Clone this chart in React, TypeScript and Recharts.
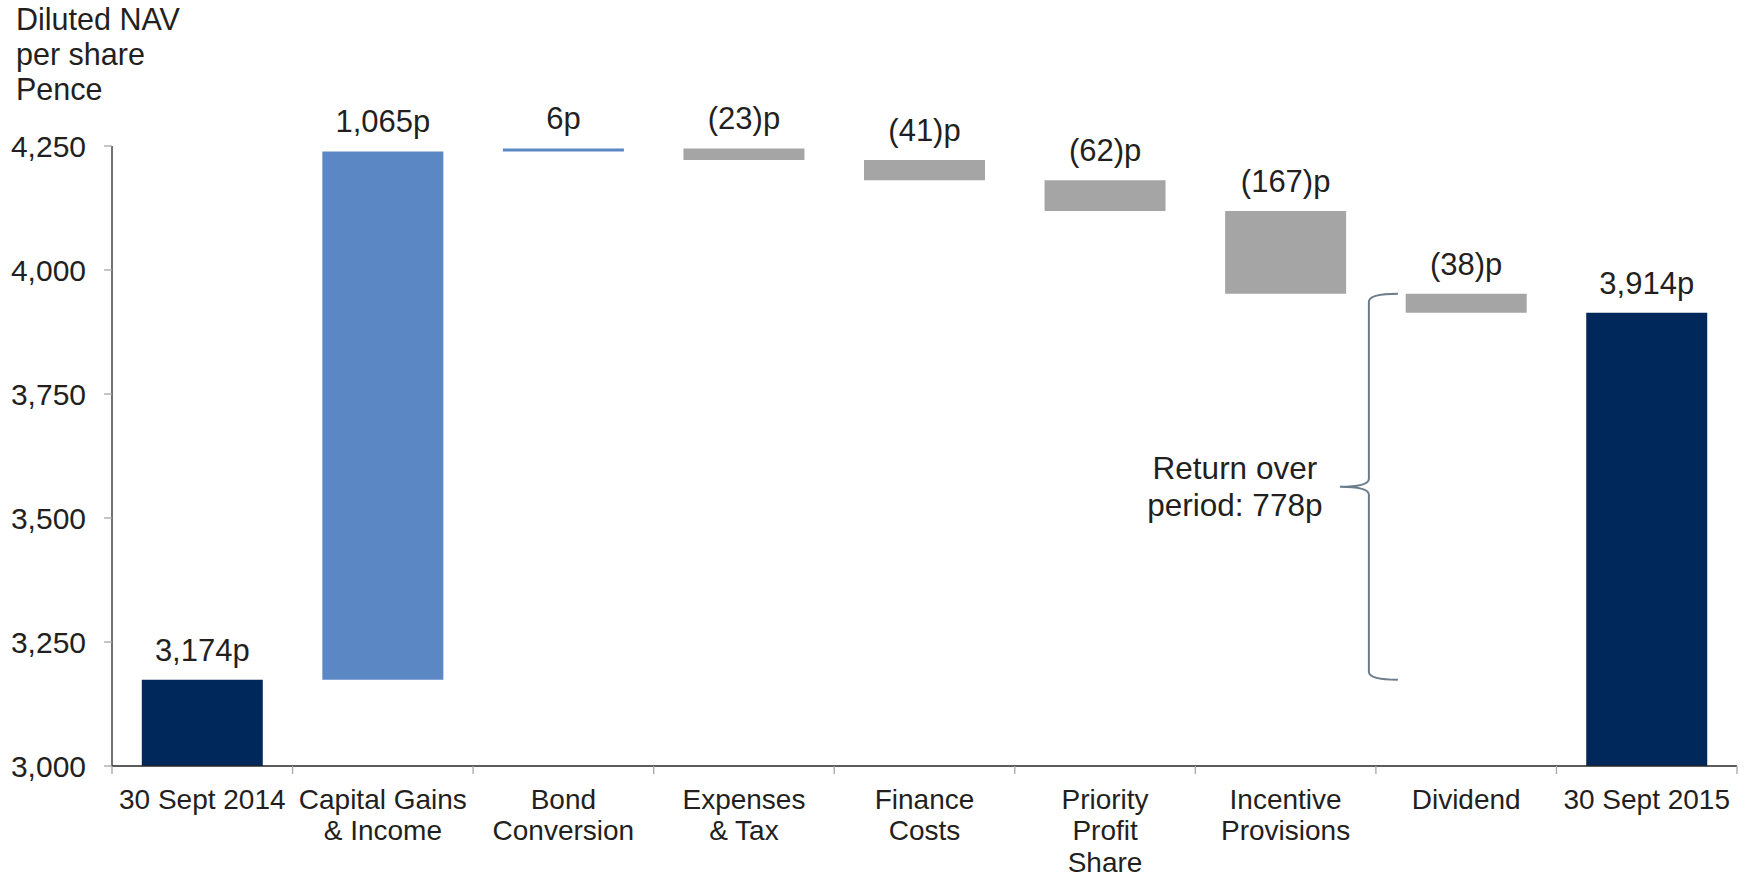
import React from 'react';
import { BarChart, Bar, XAxis, YAxis, Cell, LabelList, ReferenceArea } from 'recharts';

const categories = [
  '30 Sept 2014',
  'Capital Gains\n& Income',
  'Bond\nConversion',
  'Expenses\n& Tax',
  'Finance\nCosts',
  'Priority\nProfit\nShare',
  'Incentive\nProvisions',
  'Dividend',
  '30 Sept 2015',
];
const startValue = 3174;
const changes = [1065, 6, -23, -41, -62, -167, -38];
const endValue = 3914;
const yTicks = [3000, 3250, 3500, 3750, 4000, 4250];
const yMin = 3000;
const yMax = 4250;
const titleLines = ['Diluted NAV', 'per share', 'Pence'];

const COLORS: Record<string, string> = { total: '#00285A', up: '#5B87C5', down: '#A5A5A5' };
const FONT = '"Liberation Sans", Arial, Helvetica, sans-serif';
const TEXT = '#231F20';

const fmt = (n: number) => n.toLocaleString('en-US');

type Row = { name: string; range: [number, number]; label: string; kind: string };

const data: Row[] = (() => {
  const rows: Row[] = [];
  rows.push({ name: categories[0], range: [yMin, startValue], label: `${fmt(startValue)}p`, kind: 'total' });
  let run = startValue;
  changes.forEach((c, i) => {
    const next = run + c;
    rows.push({
      name: categories[i + 1],
      range: [Math.min(run, next), Math.max(run, next)],
      label: c >= 0 ? `${fmt(c)}p` : `(${fmt(-c)})p`,
      kind: c >= 0 ? 'up' : 'down',
    });
    run = next;
  });
  rows.push({ name: categories[categories.length - 1], range: [yMin, endValue], label: `${fmt(endValue)}p`, kind: 'total' });
  return rows;
})();

const dividend = changes[changes.length - 1];
const beforeDividend = endValue - dividend;
const returnOverPeriod = endValue - startValue - dividend;

const XTick = (props: any) => {
  const { x, y, payload, index } = props;
  const lines = String(payload.value).split('\n');
  const off = payload.offset ?? 0;
  const axisY = y - 23;
  return (
    <g>
      <line x1={x - off} x2={x - off} y1={axisY} y2={axisY + 8} stroke="#A6A6A6" strokeWidth={1.3} />
      {index === categories.length - 1 && (
        <line x1={x + off} x2={x + off} y1={axisY} y2={axisY + 8} stroke="#A6A6A6" strokeWidth={1.3} />
      )}
      <text x={x} y={y} textAnchor="middle" fill={TEXT} fontSize={28} fontFamily={FONT}>
        {lines.map((l, i) => (
          <tspan key={i} x={x} dy={i === 0 ? '0.71em' : 31.5}>
            {l}
          </tspan>
        ))}
      </text>
    </g>
  );
};

const BarLabel = (props: any) => {
  const { x, y, width, value } = props;
  return (
    <text x={x + width / 2} y={y - 19} textAnchor="middle" fill={TEXT} fontSize={31} fontFamily={FONT}>
      {value}
    </text>
  );
};

const Brace = (props: any) => {
  const { x, y, height } = props;
  const top = y;
  const bottom = y + height;
  const mid = (top + bottom) / 2;
  const vx = x - 7;
  const arm = 29;
  const r = 8;
  const d = [
    `M ${vx + arm} ${top}`,
    `Q ${vx} ${top} ${vx} ${top + r}`,
    `L ${vx} ${mid - r}`,
    `Q ${vx} ${mid} ${vx - arm} ${mid}`,
    `Q ${vx} ${mid} ${vx} ${mid + r}`,
    `L ${vx} ${bottom - r}`,
    `Q ${vx} ${bottom} ${vx + arm} ${bottom}`,
  ].join(' ');
  return (
    <g>
      <path d={d} fill="none" stroke="#6B7C8A" strokeWidth={2} />
      <text x={vx - 134} y={mid - 8} textAnchor="middle" fill={TEXT} fontSize={31.5} fontFamily={FONT}>
        Return over
      </text>
      <text x={vx - 134} y={mid + 29.5} textAnchor="middle" fill={TEXT} fontSize={31.5} fontFamily={FONT}>
        {`period: ${fmt(returnOverPeriod)}p`}
      </text>
    </g>
  );
};

export default function App() {
  return (
    <div style={{ position: 'absolute', left: 0, top: 0, width: 1746, height: 876, background: '#fff' }}>
      <div
        style={{
          position: 'absolute',
          left: 16,
          top: 2,
          fontFamily: FONT,
          fontSize: 30.5,
          lineHeight: '35px',
          color: TEXT,
          zIndex: 2,
        }}
      >
        {titleLines.map((t, i) => (
          <div key={i}>{t}</div>
        ))}
      </div>
      <BarChart
        width={1746}
        height={876}
        data={data}
        margin={{ top: 146, right: 9, bottom: 10, left: 0 }}
        barCategoryGap="16.5%"
      >
        <XAxis
          dataKey="name"
          height={100}
          interval={0}
          tickLine={false}
          tickSize={8}
          tickMargin={15}
          axisLine={{ stroke: '#262626', strokeWidth: 1.3 }}
          tick={<XTick />}
        />
        <YAxis
          width={112}
          domain={[yMin, yMax]}
          ticks={yTicks}
          allowDataOverflow
          tickFormatter={fmt}
          tickSize={8}
          tickMargin={18}
          tickLine={{ stroke: '#A6A6A6', strokeWidth: 1.3 }}
          axisLine={{ stroke: '#262626', strokeWidth: 1.3 }}
          tick={{ fill: TEXT, fontSize: 30, fontFamily: FONT }}
        />
        <Bar dataKey="range" isAnimationActive={false}>
          {data.map((d, i) => (
            <Cell key={i} fill={COLORS[d.kind]} />
          ))}
          <LabelList dataKey="label" content={<BarLabel />} />
        </Bar>
        <ReferenceArea
          x1={categories[7]}
          x2={categories[7]}
          y1={startValue}
          y2={beforeDividend}
          shape={<Brace />}
        />
      </BarChart>
    </div>
  );
}
